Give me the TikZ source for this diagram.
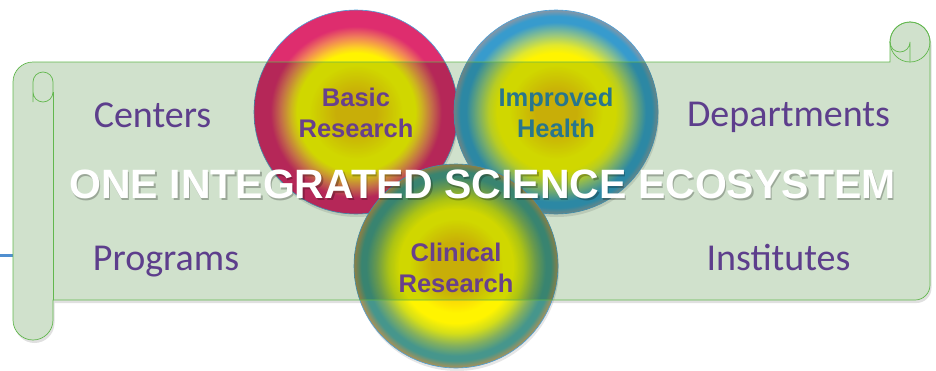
\documentclass[tikz,border=0pt]{standalone}
\usepackage{fontspec}
\setmainfont{Carlito}
\newfontfamily\hubfont{Liberation Sans}
\usetikzlibrary{shadows}

\definecolor{scrollgreen}{RGB}{208,225,204}
\definecolor{scrollrim}{RGB}{98,183,78}
\definecolor{labelpurple}{RGB}{93,62,140}
\definecolor{hubpurple}{RGB}{104,64,140}
\definecolor{hubteal}{RGB}{40,118,140}
\definecolor{rimblue}{RGB}{75,160,215}
\definecolor{stubblue}{RGB}{80,143,208}

\definecolor{coregold}{RGB}{246,198,10}
\definecolor{ringyellow}{RGB}{255,244,0}
\definecolor{basicamber}{RGB}{252,205,40}
\definecolor{basicsalmon}{RGB}{240,125,90}
\definecolor{basicmagenta}{RGB}{222,45,110}
\definecolor{healthlime}{RGB}{225,232,45}
\definecolor{healthsea}{RGB}{150,198,130}
\definecolor{healthblue}{RGB}{55,155,205}
\definecolor{healthgrey}{RGB}{135,150,165}
\definecolor{clinlime}{RGB}{212,222,25}
\definecolor{clinmoss}{RGB}{130,175,95}
\definecolor{clinteal}{RGB}{70,150,140}
\definecolor{clinbrown}{RGB}{175,145,85}

% radius of a shaded circle corresponds to 25bp
\pgfdeclareradialshading{basicshade}{\pgfpointorigin}{color(0bp)=(coregold); color(5bp)=(coregold); color(11.5bp)=(ringyellow); color(14.5bp)=(ringyellow); color(16bp)=(basicamber); color(18.5bp)=(basicsalmon); color(21bp)=(basicmagenta); color(25bp)=(basicmagenta); color(50bp)=(basicmagenta)}
\pgfdeclareradialshading{healthshade}{\pgfpointorigin}{color(0bp)=(coregold); color(5bp)=(coregold); color(11.5bp)=(ringyellow); color(14.5bp)=(ringyellow); color(16.5bp)=(healthlime); color(19bp)=(healthsea); color(22bp)=(healthblue); color(23.5bp)=(healthblue); color(25bp)=(healthgrey); color(50bp)=(healthgrey)}
\pgfdeclareradialshading{clinshade}{\pgfpointorigin}{color(0bp)=(coregold); color(6bp)=(coregold); color(11.5bp)=(ringyellow); color(14bp)=(ringyellow); color(16.5bp)=(clinlime); color(19.5bp)=(clinmoss); color(22bp)=(clinteal); color(23.2bp)=(clinteal); color(25bp)=(clinbrown); color(50bp)=(clinbrown)}

\newcommand\scrolloutline{(13,82) arc[start angle=180,end angle=270,radius=20] -- (890,62) -- (890,42) arc[start angle=180,end angle=360,radius=20] -- (930,285) arc[start angle=0,end angle=90,radius=15] -- (53,300) -- (53,320) arc[start angle=0,end angle=180,radius=20] -- cycle}

\begin{document}
\begin{tikzpicture}[x=1pt,y=-1pt,
        bubble/.style={circle,minimum size=204pt,inner sep=0pt,draw=rimblue,line width=0.6pt,
            drop shadow={opacity=0.2,shadow xshift=1pt,shadow yshift=-3pt}},
        hub/.style={font=\hubfont\bfseries\fontsize{25.5}{30.5}\selectfont,align=center},
        lbl/.style={font=\fontsize{38}{40}\selectfont,text=labelpurple,anchor=base},
        banner/.style={font=\hubfont\bfseries\fontsize{41}{45}\selectfont,anchor=base},
        rim/.style={draw=scrollrim,line width=0.7pt}]
        \useasboundingbox (0,0) rectangle (936,370);

        \coordinate (stub) at (0,255);
        \coordinate (rollleft) at (13,255);
        \draw[stubblue,line width=3pt] (stub) -- (rollleft);

        % scroll shadow and white backing
        \fill[black,opacity=0.12,xshift=1.5pt,yshift=-3pt] \scrolloutline;
        \fill[white] \scrolloutline;

        \node[bubble,shading=basicshade] (basic) at (356,112) {};
        \node[bubble,shading=healthshade] (health) at (556,112) {};
        \node[bubble,shading=clinshade] (clinical) at (456,266) {};

        \begin{scope}[blend mode=multiply]
            \fill[scrollgreen] \scrolloutline (910,42) circle[radius=20];
        \end{scope}
        \draw[rim] \scrolloutline;
        \draw[rim] (910,42) circle[radius=20];
        \draw[rim] (910,62) -- (910,42) arc[start angle=0,end angle=180,radius=10];
        \draw[rim] (33,102) -- (33,82) arc[start angle=180,end angle=360,radius=10] -- (53,92) arc[start angle=0,end angle=180,radius=10];
        \draw[rim] (53,92) -- (53,300);

        \node[lbl] (centers) at (152.5,127) {Centers};
        \node[lbl] (programs) at (166,270) {Programs};
        \node[lbl] (departments) at (788.5,126) {Departments};
        \node[lbl] (institutes) at (778.5,270) {Institutes};

        \node[hub,text=hubpurple] (basiclabel) at (356,113) {Basic\\Research};
        \node[hub,text=hubteal] (healthlabel) at (556,113) {Improved\\Health};
        \node[hub,text=hubpurple] (clinicallabel) at (456,268) {Clinical\\Research};

        \node[banner,text=black,opacity=0.25] (ecoshadow) at (484,200.5) {ONE INTEGRATED SCIENCE ECOSYSTEM};
        \node[banner,text=white] (eco) at (482.5,198) {ONE INTEGRATED SCIENCE ECOSYSTEM};
\end{tikzpicture}
\end{document}
